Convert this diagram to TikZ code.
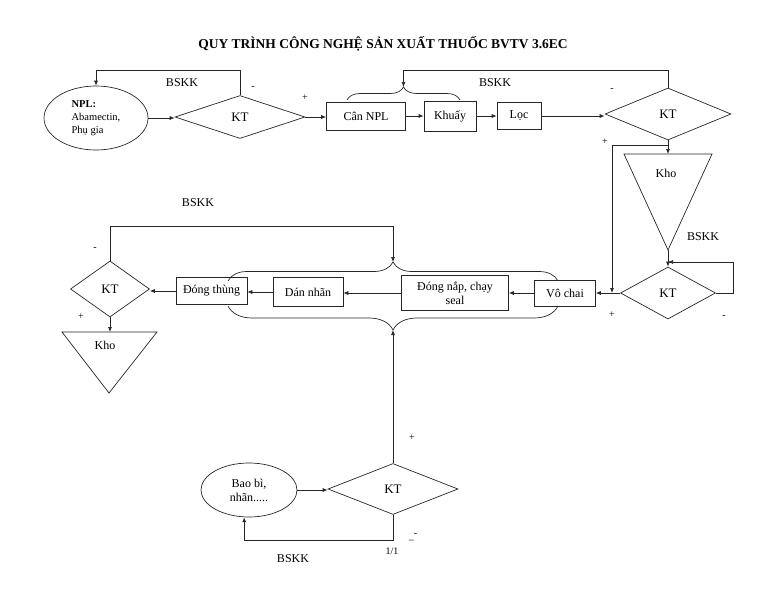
\documentclass[tikz,border=0pt]{standalone}
\usepackage{fontspec}
\setmainfont{Liberation Serif}
\usetikzlibrary{shapes.geometric,arrows.meta,decorations.pathreplacing}
\begin{document}
\begin{tikzpicture}[x=1pt,y=-1pt,
  line/.style={draw=black!85, line width=0.7pt},
  arr/.style={line, -{Latex[length=5pt,width=4pt]}},
  box/.style={draw=black!85, line width=0.7pt, rectangle, inner sep=0pt, font=\fontsize{12}{14}\selectfont},
  kt/.style={draw=black!85, line width=0.7pt, diamond, inner sep=0pt, font=\fontsize{13}{15}\selectfont},
  oval/.style={draw=black!85, line width=0.7pt, ellipse, inner sep=0pt},
  lbl/.style={font=\fontsize{12}{14}\selectfont, inner sep=0pt},
  sign/.style={font=\fontsize{10}{11}\selectfont, inner sep=0pt},
  brc/.style={line, decorate, decoration={brace, amplitude=#1}},
]
\useasboundingbox (0,0) rectangle (768,594);
\node[font=\bfseries\fontsize{13.5}{15}\selectfont] (title) at (383,44) {QUY TRÌNH CÔNG NGHỆ SẢN XUẤT THUỐC BVTV 3.6EC};

% top row
\node[oval, minimum width=104pt, minimum height=64pt, align=left, font=\fontsize{10.5}{13}\selectfont] (npl) at (96,118) {\textbf{NPL:}\\Abamectin,\\Phụ gia};
\node[kt, minimum width=130pt, minimum height=43pt] (kt1) at (240,117) {KT};
\node[box, minimum width=79pt, minimum height=28pt] (can) at (366,116) {Cân NPL};
\node[box, minimum width=52pt, minimum height=30pt] (khuay) at (450,116) {Khuấy};
\node[box, minimum width=44pt, minimum height=27pt] (loc) at (519,116) {Lọc};
\node[kt, minimum width=126pt, minimum height=52pt] (kt2) at (668,114) {KT};

\draw[arr] (npl.east) -- (npl.east -| kt1.west);
\draw[arr] (kt1.east) -- (kt1.east -| can.west);
\draw[arr] (can.east) -- (can.east -| khuay.west);
\draw[arr] (khuay.east) -- (khuay.east -| loc.west);
\draw[arr] (loc.east) -- (loc.east -| kt2.west);

\draw[arr] (kt1.north) -- (kt1.north |- 0,70) -| (npl.north);
\draw[brc=13] (347,100) -- (460,100);
\coordinate (b1) at (403.5,87);
\draw[arr] (kt2.north) -- (kt2.north |- 0,70) -| (b1);

\node[lbl] (bskk1) at (182,83) {BSKK};
\node[sign] (m1) at (253,88) {-};
\node[sign] (p1) at (305,98) {+};
\node[lbl] (bskk2) at (495,83) {BSKK};
\node[sign] (m2) at (612,90) {-};
\node[sign] (p2) at (605,142) {+};

% right column
\draw[line] (624,154) -- (712,154) -- (668,250) -- cycle;
\node[lbl] (kho1) at (666,173) {Kho};
\coordinate (kho1top) at (668,154);
\coordinate (kho1tip) at (668,250);
\draw[arr] (kt2.south) -- (kho1top);
\node[kt, minimum width=95pt, minimum height=52pt] (kt3) at (668,293) {KT};
\draw[arr] (kho1tip) -- (kt3.north);
\coordinate (j3) at (668,262);
\draw[arr] (kt3.east) -- (733,293) |- (j3);
\coordinate (j2) at (668,145);
\coordinate (j4) at (612,293);
\draw[arr] (j2) -| (j4);
\node[lbl] (bskk3) at (703,237) {BSKK};
\node[sign] (m3) at (724,317) {-};
\node[sign] (p3) at (612,315) {+};

% middle row
\node[box, minimum width=61pt, minimum height=26pt] (vochai) at (565,293) {Vô chai};
\node[box, minimum width=107pt, minimum height=35pt, align=center, font=\fontsize{12}{14}\selectfont] (dongnap) at (455,293) {Đóng nắp, chạy\\seal};
\node[box, minimum width=70pt, minimum height=29pt] (dannhan) at (308,292) {Dán nhãn};
\node[box, minimum width=71pt, minimum height=27pt] (dongthung) at (211.5,291) {Đóng thùng};
\node[kt, minimum width=79pt, minimum height=56pt] (kt4) at (110,289) {KT};

\draw[arr] (kt3.west) -- (kt3.west -| vochai.east);
\draw[arr] (vochai.west) -- (vochai.west -| dongnap.east);
\draw[arr] (dongnap.west) -- (dongnap.west -| dannhan.east);
\draw[arr] (dannhan.west) -- (dannhan.west -| dongthung.east);
\draw[arr] (dongthung.west) -- (dongthung.west -| kt4.east);

\draw[brc=19] (228,281) -- (558,281);
\coordinate (b2) at (393,262);
\draw[brc=24] (558,306) -- (228,306);
\coordinate (b3) at (393,330);

\draw[arr] (kt4.north) -- (kt4.north |- 0,226) -| (b2);
\draw[line] (62,332) -- (157,332) -- (109,393) -- cycle;
\coordinate (kho2top) at (110,332);
\node[lbl] (kho2) at (105,345) {Kho};
\draw[arr] (kt4.south) -- (kho2top);
\node[lbl] (bskk4) at (198,203) {BSKK};
\node[sign] (m4) at (95,249) {-};
\node[sign] (p4) at (81,317) {+};

% bottom
\node[oval, minimum width=96pt, minimum height=54pt, align=center, font=\fontsize{12}{14}\selectfont] (baobi) at (249,490) {Bao bì,\\nhãn.....};
\node[kt, minimum width=130pt, minimum height=51pt] (kt5) at (393,489) {KT};
\draw[arr] (kt5.north) -- (b3);
\draw[arr] (baobi.east) -- (baobi.east -| kt5.west);
\draw[arr] (kt5.south) -- (kt5.south |- 0,540) -| (baobi.260);
\node[sign] (p5) at (412,438) {+};
\node[lbl] (bskk5) at (293,559) {BSKK};
\node[font=\fontsize{10}{12}\selectfont, inner sep=0pt] (oneone) at (392,551) {1/1};
\node[sign] (m5) at (413,537) {\_\raisebox{3pt}{-}};
\end{tikzpicture}
\end{document}
